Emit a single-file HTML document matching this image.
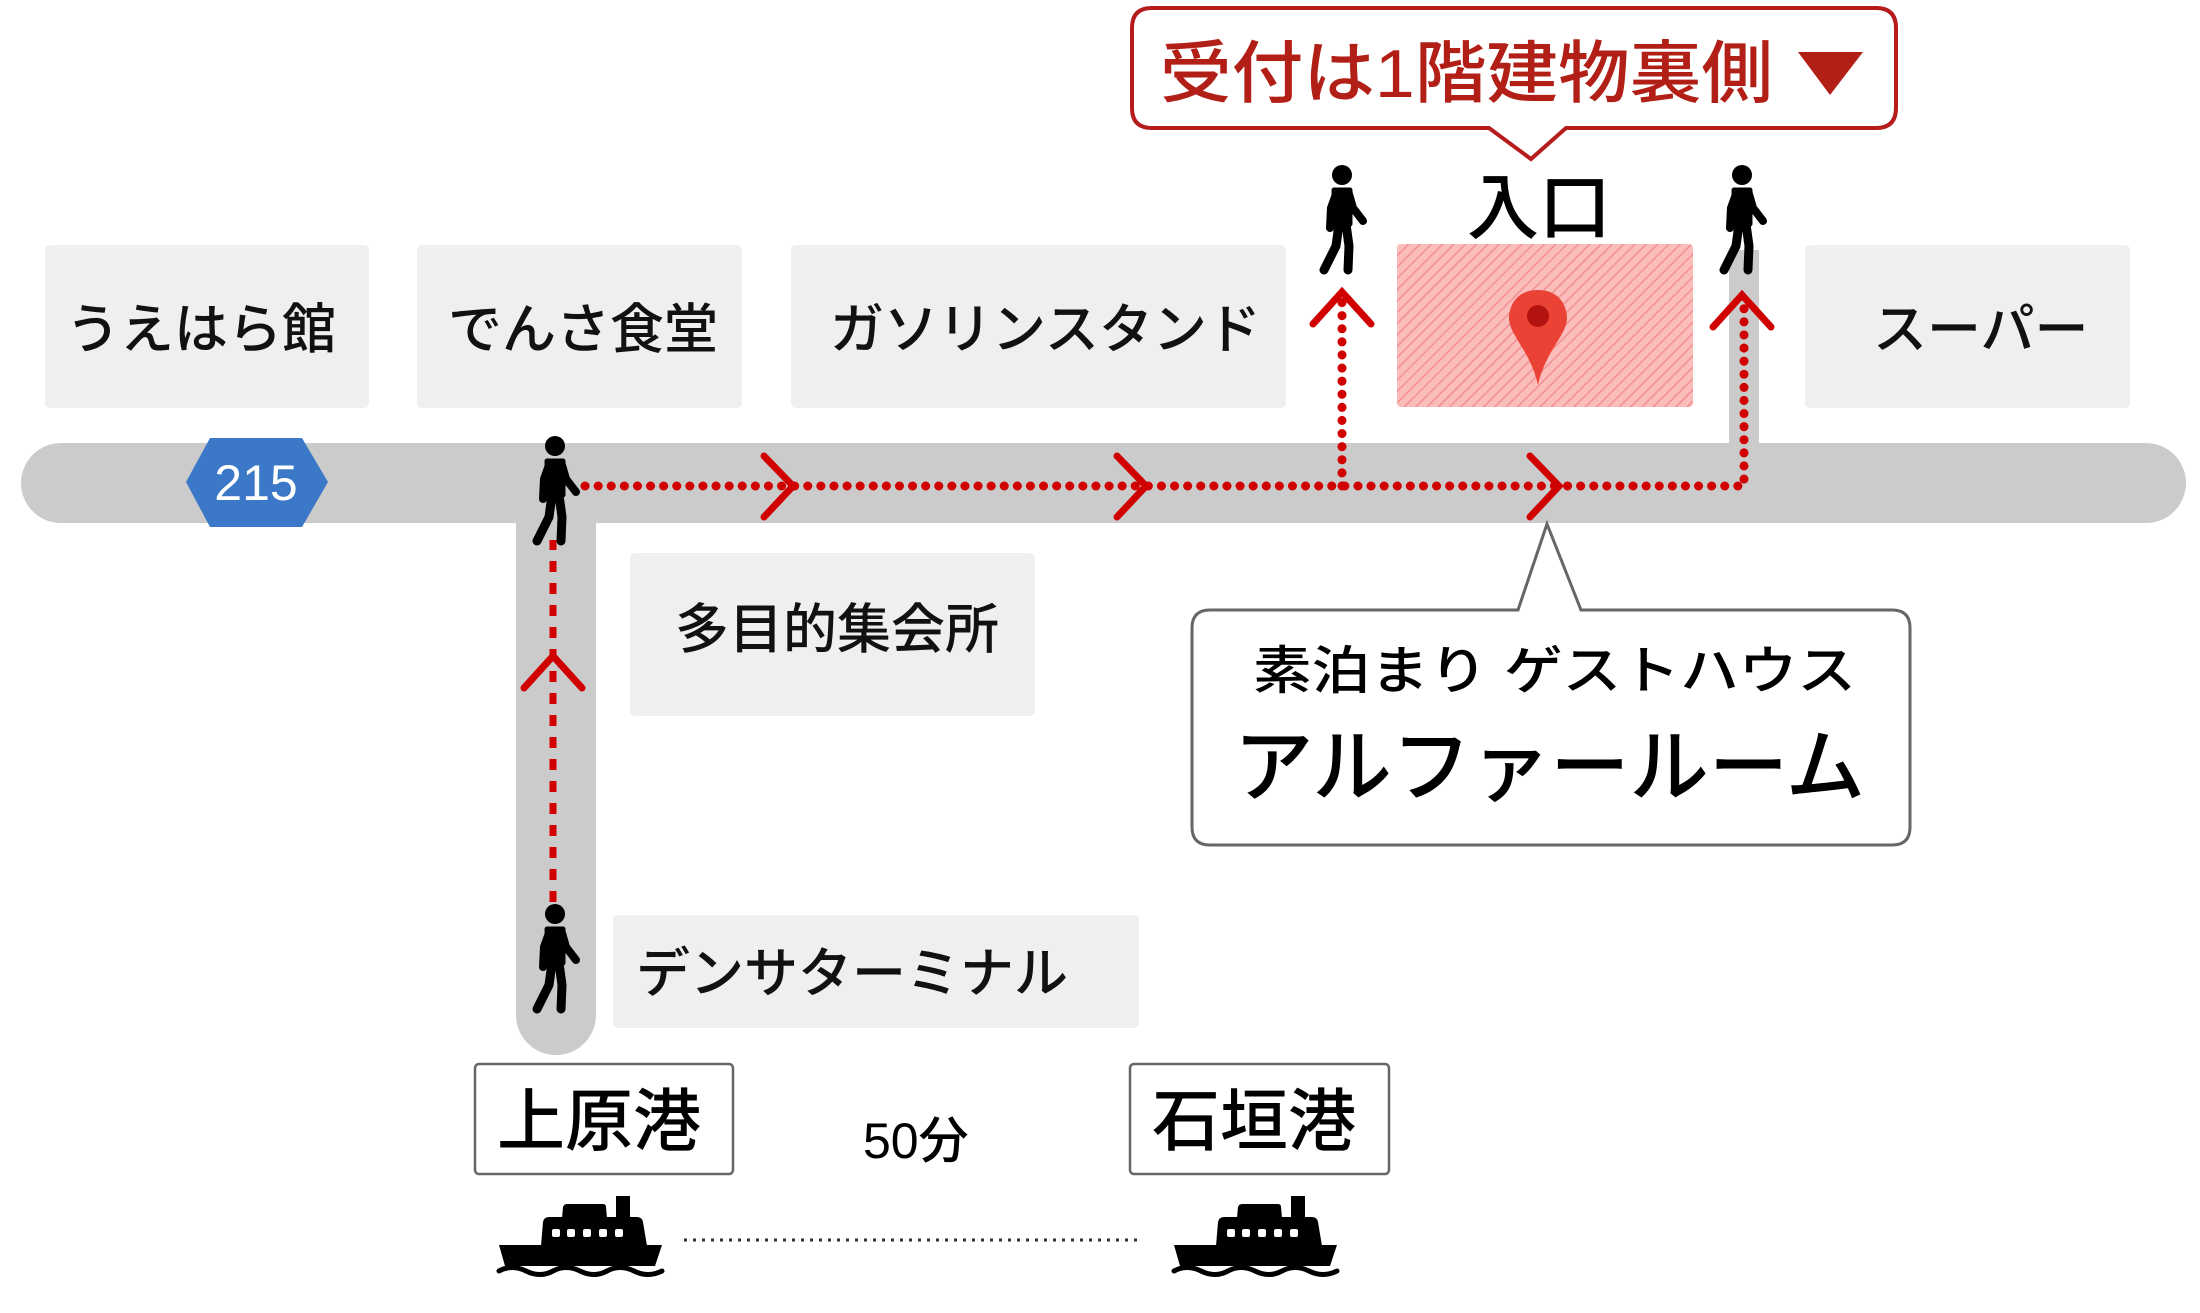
<!DOCTYPE html>
<html><head><meta charset="utf-8"><style>
html,body{margin:0;padding:0;background:#fff;}
svg{display:block;}
text{font-family:"Liberation Sans","Noto Sans CJK JP",sans-serif;font-weight:500;}
</style></head><body>
<svg width="2200" height="1313" viewBox="0 0 2200 1313" xmlns="http://www.w3.org/2000/svg">
<defs>
<pattern id="hatch" width="8" height="8" patternUnits="userSpaceOnUse" patternTransform="rotate(45)">
<rect width="8" height="8" fill="#fbbcbc"/>
<line x1="0" y1="0" x2="0" y2="8" stroke="#f29090" stroke-width="3"/>
</pattern>
<g id="walker" fill="none" stroke="#000" stroke-linecap="round" stroke-linejoin="round">
<circle cx="30" cy="9" r="10" fill="#000" stroke="none"/>
<path d="M22 24 L38 24 L38 58 L23 58 Z" fill="#000" stroke-width="5"/>
<path d="M24 28 L19 42 L18 62" stroke-width="8"/>
<path d="M37 28 L41 42 L51 55" stroke-width="8"/>
<path d="M27 58 L24 80 L12 104" stroke-width="9"/>
<path d="M34 58 L37 80 L36 104" stroke-width="9"/>
</g>
<g id="ship">
<path d="M0 49 L163 49 L156 70 L6 70 Z" fill="#000"/>
<path d="M42 50 L44 26 Q45 21 50 21 L138 21 Q143 21 144 26 L148 50 Z" fill="#000"/>
<path d="M63 22 L64 11 Q65 8 68 8 L104 8 Q107 8 107 11 L108 22 Z" fill="#000"/>
<rect x="117" y="0" width="14" height="22" fill="#000"/>
<g fill="#fff"><rect x="53" y="33" width="8" height="8" rx="2"/><rect x="68" y="33" width="8" height="8" rx="2"/><rect x="84" y="33" width="8" height="8" rx="2"/><rect x="100" y="33" width="8" height="8" rx="2"/><rect x="116" y="33" width="8" height="8" rx="2"/></g>
<path d="M0 75 Q13 68 27 75 T54 75 T81 75 T108 75 T135 75 T163 75" fill="none" stroke="#000" stroke-width="5" stroke-linecap="round"/>
</g>
</defs>

<rect x="21" y="443" width="2165" height="80" rx="40" fill="#cbcbcb"/>
<path d="M516 480 L596 480 L596 1015 A40 40 0 0 1 516 1015 Z" fill="#cbcbcb"/>
<rect x="1729" y="250" width="30" height="220" fill="#cbcbcb"/>

<g fill="#efefef">
<rect x="45" y="245" width="324" height="163" rx="5"/>
<rect x="417" y="245" width="325" height="163" rx="5"/>
<rect x="791" y="245" width="495" height="163" rx="5"/>
<rect x="1805" y="245" width="325" height="163" rx="5"/>
<rect x="630" y="553" width="405" height="163" rx="5"/>
<rect x="613" y="915" width="526" height="113" rx="5"/>
</g>
<g font-size="54" fill="#111">
<text x="66" y="348">うえはら館</text>
<text x="448" y="348">でんさ食堂</text>
<text x="830" y="348">ガソリンスタンド</text>
<text x="1873" y="348">スーパー</text>
<text x="675" y="648">多目的集会所</text>
<text x="636" y="992">デンサターミナル</text>
</g>

<rect x="1397" y="244" width="296" height="163" rx="4" fill="url(#hatch)"/>
<path d="M1538 290 C1515 290 1509 308 1509 318 C1509 335 1530 350 1538 385 C1546 350 1567 335 1567 318 C1567 308 1561 290 1538 290 Z" fill="#ea4335"/>
<circle cx="1538" cy="316" r="11" fill="#b31412"/>
<text x="1467" y="233" font-size="72" fill="#000">入口</text>

<polygon points="210,438 302,438 328,482 302,527 210,527 186,482" fill="#3b78c8"/>
<text x="256" y="500" font-size="50" fill="#fff" text-anchor="middle">215</text>

<g fill="none" stroke="#d00000" stroke-width="9" stroke-linecap="round">
<path d="M585 486 L1744 486 L1744 300" stroke-dasharray="0.1 13"/>
<path d="M1342 486 L1342 300" stroke-dasharray="0.1 13"/>
<path d="M553 902 L553 540" stroke-dasharray="11 11" stroke-linecap="butt" stroke-width="7"/>
</g>
<g fill="none" stroke="#d00000" stroke-width="7" stroke-linecap="round" stroke-linejoin="miter">
<path d="M764 456 L793 486 L764 517"/>
<path d="M1117 456 L1146 486 L1117 517"/>
<path d="M1530 456 L1559 486 L1530 517"/>
<path d="M1313 324 L1342 292 L1371 324"/>
<path d="M1713 327 L1742 295 L1771 327"/>
<path d="M524 688 L553 656 L582 688"/>
</g>

<use href="#walker" x="525" y="437"/>
<use href="#walker" x="1312" y="166"/>
<use href="#walker" x="1712" y="166"/>
<use href="#walker" x="525" y="905"/>

<path d="M1152 8 L1876 8 Q1896 8 1896 28 L1896 108 Q1896 128 1876 128 L1566 128 L1531 159 L1489 128 L1152 128 Q1132 128 1132 108 L1132 28 Q1132 8 1152 8 Z" fill="#fff" stroke="#b71c1c" stroke-width="4"/>
<text x="1160" y="97" font-size="68" fill="#b21f16" textLength="613" lengthAdjust="spacingAndGlyphs">受付は1階建物裏側</text>
<polygon points="1798,52 1863,52 1830,95" fill="#b21f16"/>

<path d="M1210 610 L1518 610 L1547 524 L1581 610 L1892 610 Q1910 610 1910 628 L1910 827 Q1910 845 1892 845 L1210 845 Q1192 845 1192 827 L1192 628 Q1192 610 1210 610 Z" fill="#fff" stroke="#666" stroke-width="3"/>
<text x="1253" y="689" font-size="52" fill="#000" textLength="603" lengthAdjust="spacingAndGlyphs">素泊まり ゲストハウス</text>
<text x="1234" y="795" font-size="80" fill="#000" textLength="631" lengthAdjust="spacingAndGlyphs">アルファールーム</text>

<rect x="475" y="1064" width="258" height="110" rx="4" fill="#fff" stroke="#666" stroke-width="2.5"/>
<rect x="1130" y="1064" width="259" height="110" rx="4" fill="#fff" stroke="#666" stroke-width="2.5"/>
<text x="497" y="1145" font-size="68" fill="#000">上原港</text>
<text x="1152" y="1145" font-size="68" fill="#000">石垣港</text>
<text x="863" y="1158" font-size="50" fill="#000">50分</text>

<use href="#ship" x="499" y="1196"/>
<use href="#ship" x="1174" y="1196"/>
<line x1="684" y1="1240" x2="1142" y2="1240" stroke="#333" stroke-width="3" stroke-dasharray="3 6"/>
</svg>
</body></html>
